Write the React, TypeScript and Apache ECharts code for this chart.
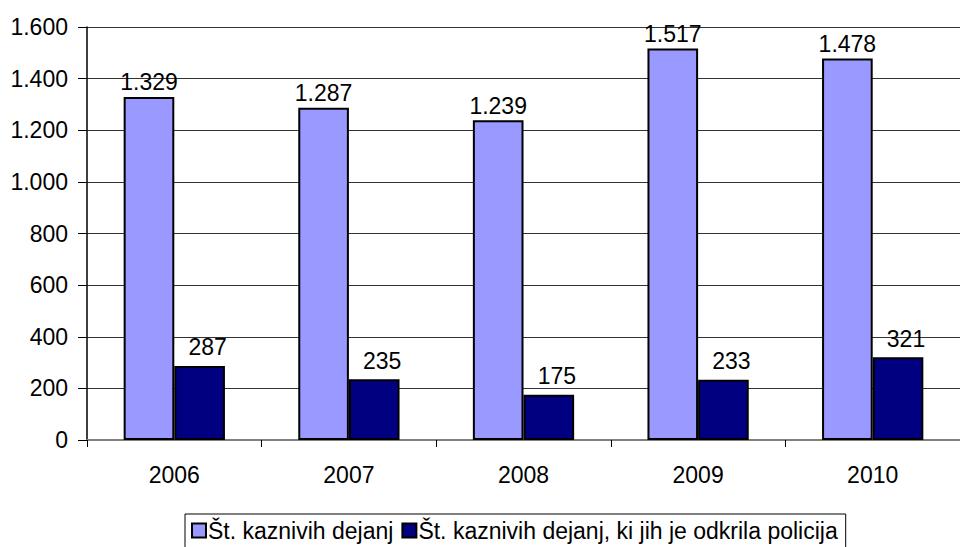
import React, { useEffect, useRef } from "react";
import * as echarts from "echarts";

const categories = ["2006", "2007", "2008", "2009", "2010"];
const seriesAll = [1329, 1287, 1239, 1517, 1478];
const seriesPolice = [287, 235, 175, 233, 321];
const seriesNames = [
  "Št. kaznivih dejanj",
  "Št. kaznivih dejanj, ki jih je odkrila policija",
];

const fmt = (v: number) => {
  const s = String(Math.round(v));
  return s.replace(/\B(?=(\d{3})+(?!\d))/g, ".");
};

const FONT = "'Liberation Sans', Arial, sans-serif";
const FS = 23;

export default function App() {
  const ref = useRef<HTMLDivElement>(null);
  useEffect(() => {
    document.body.style.margin = "0";
    const chart = echarts.init(ref.current!, undefined, { renderer: "svg" });
    chart.setOption({
      animation: false,
      backgroundColor: "#ffffff",
      textStyle: { fontFamily: FONT, color: "#000" },
      grid: { left: 87, top: 27, width: 884, height: 413 },
      legend: {
        left: 185,
        top: 514,
        orient: "horizontal",
        icon: "rect",
        itemWidth: 14,
        itemHeight: 14,
        itemGap: 8,
        padding: [5, 8, 12, 6],
        borderColor: "#000",
        borderWidth: 1,
        textStyle: { fontFamily: FONT, fontSize: FS, color: "#000", padding: [0, 0, 0, -3] },
        itemStyle: { borderColor: "#000", borderWidth: 2 },
        data: seriesNames,
      },
      xAxis: {
        type: "category",
        data: categories,
        axisLine: { lineStyle: { color: "#808080", width: 2 } },
        axisTick: { show: true, length: 7, lineStyle: { color: "#000" } },
        axisLabel: { fontFamily: FONT, fontSize: FS, color: "#000", margin: 23 },
      },
      yAxis: {
        type: "value",
        min: 0,
        max: 1600,
        interval: 200,
        axisLine: { show: true, lineStyle: { color: "#000", width: 1.5 } },
        axisTick: { show: true, length: 9, lineStyle: { color: "#000" } },
        splitLine: { show: true, lineStyle: { color: "#333", width: 1.2 } },
        axisLabel: { fontFamily: FONT, fontSize: FS, color: "#000", margin: 19, formatter: (v: number) => fmt(v) },
      },
      series: [
        {
          name: seriesNames[0],
          type: "bar",
          data: seriesAll,
          barGap: "0%",
          barCategoryGap: "42%",
          itemStyle: { color: "#9999ff", borderColor: "#000", borderWidth: 2 },
          label: { show: true, position: "top", distance: 3, fontFamily: FONT, fontSize: FS, color: "#000", formatter: (p: any) => fmt(p.value) },
        },
        {
          name: seriesNames[1],
          type: "bar",
          data: seriesPolice,
          itemStyle: { color: "#000080", borderColor: "#000", borderWidth: 2 },
          label: { show: true, position: "top", distance: 7, offset: [8, 0], fontFamily: FONT, fontSize: FS, color: "#000", formatter: (p: any) => fmt(p.value) },
        },
      ],
    });
    return () => chart.dispose();
  }, []);
  return <div ref={ref} style={{ width: 960, height: 547 }} />;
}
